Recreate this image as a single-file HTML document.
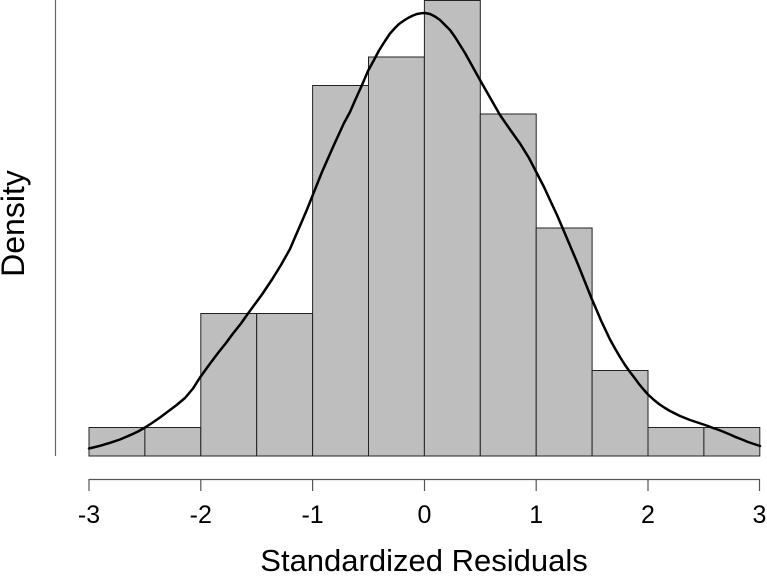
<!DOCTYPE html>
<html>
<head>
<meta charset="utf-8">
<style>
  html, body { margin: 0; padding: 0; background: #ffffff; }
  svg { display: block; }
  text { font-family: "Liberation Sans", Arial, sans-serif; fill: #000; }
</style>
</head>
<body>
<svg width="767" height="584" viewBox="0 0 767 584" xmlns="http://www.w3.org/2000/svg">
  <rect x="0" y="0" width="767" height="584" fill="#ffffff"/>

  <!-- y axis line -->
  <line x1="55.5" y1="0" x2="55.5" y2="456" stroke="#666" stroke-width="1.2"/>

  <!-- histogram bars -->
  <g fill="#bebebe" stroke="#222" stroke-width="1">
    <rect x="89" y="427.5" width="55.9" height="28.5"/>
    <rect x="144.9" y="427.5" width="55.9" height="28.5"/>
    <rect x="200.8" y="313.5" width="55.9" height="142.5"/>
    <rect x="256.7" y="313.5" width="55.9" height="142.5"/>
    <rect x="312.6" y="85.5" width="55.9" height="370.5"/>
    <rect x="368.5" y="57" width="55.9" height="399"/>
    <rect x="424.4" y="0.5" width="55.9" height="455.5"/>
    <rect x="480.3" y="114" width="55.9" height="342"/>
    <rect x="536.2" y="228" width="55.9" height="228"/>
    <rect x="592.1" y="370.5" width="55.9" height="85.5"/>
    <rect x="648" y="427.5" width="55.9" height="28.5"/>
    <rect x="703.9" y="427.5" width="55.9" height="28.5"/>
  </g>

  <!-- density curve -->
  <polyline fill="none" stroke="#000" stroke-width="2.5" stroke-linejoin="round" stroke-linecap="round"
    points="89,448.5 100,445.8 110,442.8 120,439.5 130,435.2 138,431.5 145,427.5 152,423 160,417.5 168,411.5 176,405.5 185,398 193,388.5 200,377.5 209,365 218,353 226,343 233,333.5 241,323.5 248,313.5 255,304 262,294.5 267,287 272,279.5 281,265 290,249 296,235 301,223.5 307,209.5 312,197 322,172 333,147 344,123 350,112 355,100.5 362,85 368,71 374,60 379,50.5 385,41 390,33.5 395,28 399,24 404,20.5 408,18 413,15.5 417,14 421,13.3 425,13 430,14 435,16.5 440,20 445,25 450,30 455,37 460,45 465,53 470,62 475,71 480,80 490,97.5 500,115 510,129.5 520,143.5 529,158 537,173.5 544,187 550,200 557,215 563,229 570,245.5 578,264.5 585,282 592,299.5 597,311 601,320.5 606,331 610,339.5 615,348.5 620,357 625,365 630,372 635,378.5 639,384 644,390 648,394.5 654,400 659,404 665,408 670,411 675,413.5 680,416 685,418 690,420 696,422 702,424 708,426 713,428 719,430 724,432 730,434.5 735,436.8 742,439.5 748,442 754,444 760,446"/>

  <!-- x axis -->
  <g stroke="#555" stroke-width="1.2">
    <line x1="89" y1="479.5" x2="760" y2="479.5"/>
    <line x1="89" y1="479" x2="89" y2="491"/>
    <line x1="200.8" y1="479" x2="200.8" y2="491"/>
    <line x1="312.6" y1="479" x2="312.6" y2="491"/>
    <line x1="424.5" y1="479" x2="424.5" y2="491"/>
    <line x1="536.2" y1="479" x2="536.2" y2="491"/>
    <line x1="648" y1="479" x2="648" y2="491"/>
    <line x1="759.5" y1="479" x2="759.5" y2="491"/>
  </g>

  <g font-size="25" text-anchor="middle">
    <text x="89" y="523">-3</text>
    <text x="200.8" y="523">-2</text>
    <text x="312.6" y="523">-1</text>
    <text x="424.5" y="523">0</text>
    <text x="536.2" y="523">1</text>
    <text x="648" y="523">2</text>
    <text x="759.5" y="523">3</text>
  </g>

  <!-- axis titles -->
  <text x="424" y="571" font-size="31" text-anchor="middle">Standardized Residuals</text>
  <text x="0" y="0" font-size="32" text-anchor="middle" transform="translate(24,223.5) rotate(-90)">Density</text>
</svg>
</body>
</html>
